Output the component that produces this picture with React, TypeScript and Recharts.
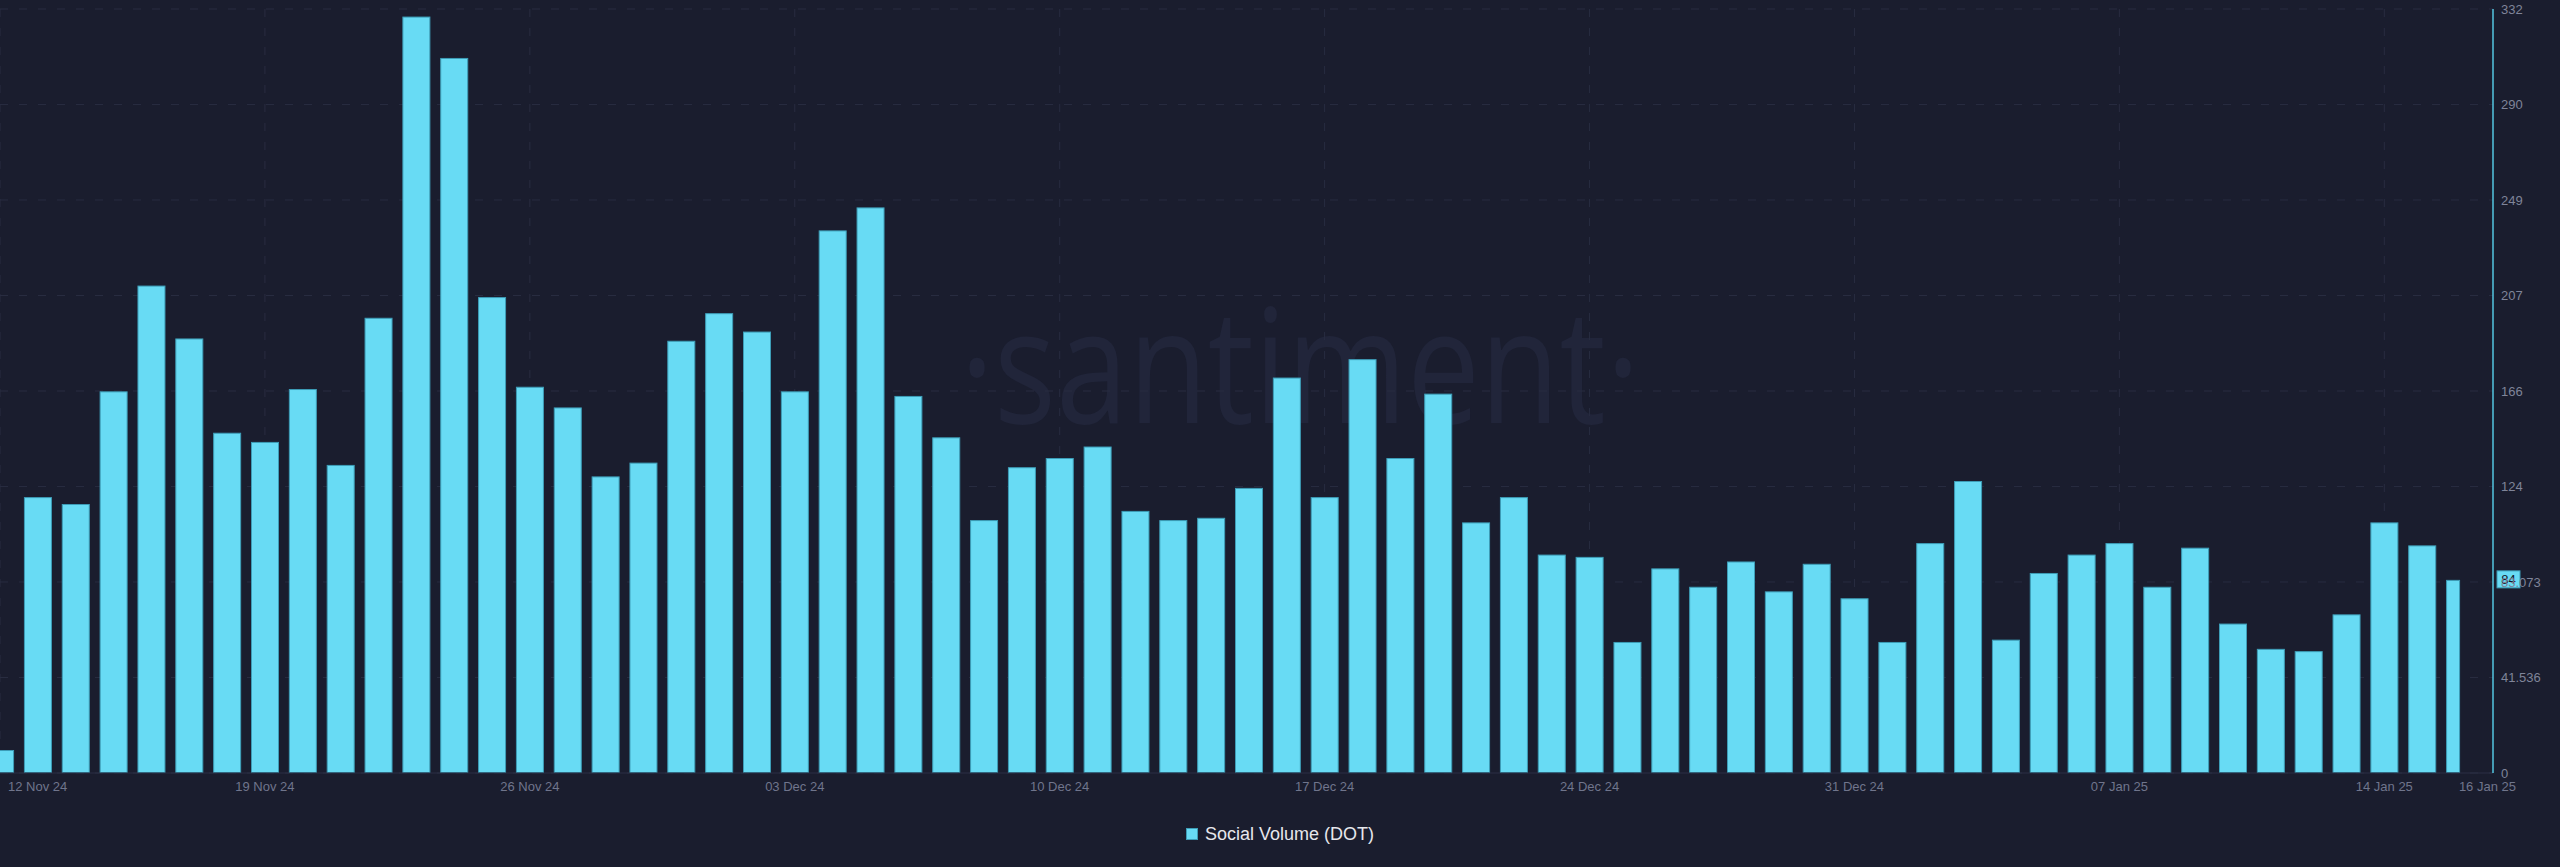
import {
  BarChart,
  Bar,
  XAxis,
  YAxis,
  CartesianGrid,
  Legend,
  ReferenceLine,
} from 'recharts';

// daily social volume, 12 Nov 24 .. 16 Jan 25
const socialVolume = [
  10, 120, 117, 166, 212, 189, 148, 144, 167, 134, 198, 329, 311, 207,
  168, 159, 129, 135, 188, 200, 192, 166, 236, 246, 164, 146, 110,
  133, 137, 142, 114, 110, 111, 124, 172, 120, 180, 137, 165, 109,
  120, 95, 94, 57, 89, 81, 92, 79, 91, 76, 57, 100, 127,
  58, 87, 95, 100, 81, 98, 65, 54, 53, 69, 109, 99, 84,
];

const xTicks = [0, 7, 14, 21, 28, 35, 42, 49, 56, 63, 65];
const xTickLabels = [
  '12 Nov 24', '19 Nov 24', '26 Nov 24', '03 Dec 24', '10 Dec 24', '17 Dec 24',
  '24 Dec 24', '31 Dec 24', '07 Jan 25', '14 Jan 25', '16 Jan 25',
];

const yTicks = [0, 41.536, 83.073, 124.609, 166.145, 207.681, 249.218, 290.754, 332.29];
const yTickLabels = ['0', '41.536', '83.073', '124', '166', '207', '249', '290', '332'];

const data = socialVolume.map((value, day) => ({ day, value }));
const lastValue = socialVolume[socialVolume.length - 1];

const WIDTH = 2560;
const HEIGHT = 867;
const X_MAX = 65.872;

const BG = '#1a1d2e';
const BAR_FILL = '#68dbf4';
const BAR_STROKE = '#3d9db7';
const GRID = '#282c40';
const AXIS_CYAN = '#55c6e0';

function XTick({ x, y, payload }: any) {
  const i = xTicks.indexOf(payload.value);
  const first = i === 0;
  const last = i === xTicks.length - 1;
  return (
    <text
      x={first ? x + 8 : last ? x + 56 : x}
      y={y}
      dy={18}
      textAnchor={first ? 'start' : last ? 'end' : 'middle'}
      fill="#70758c"
      fontSize={13}
    >
      {xTickLabels[i]}
    </text>
  );
}

function BarShape(props: any) {
  const { x, y, width, height, index } = props;
  if (!height || height <= 0) return null;
  // the newest bar is cut at its own date, like the left one
  const w = index === socialVolume.length - 1 ? width / 2 : width;
  return (
    <rect
      x={x + 0.5}
      y={y + 0.5}
      width={w - 1}
      height={height - 1}
      fill={BAR_FILL}
      stroke={BAR_STROKE}
      strokeWidth={1}
    />
  );
}

function ValueBadge({ viewBox }: any) {
  if (!viewBox) return null;
  const bx = viewBox.x + viewBox.width + 4;
  return (
    <g>
      <rect x={bx} y={viewBox.y - 9} width={23} height={17} fill={BAR_FILL} stroke={BAR_STROKE} />
      <text x={bx + 11.5} y={viewBox.y + 4.5} textAnchor="middle" fontSize={13} fill="#15182a">
        {lastValue}
      </text>
    </g>
  );
}

function LegendBox() {
  return (
    <div
      style={{
        height: 40,
        display: 'flex',
        justifyContent: 'center',
        alignItems: 'center',
        gap: 7,
      }}
    >
      <span
        style={{
          width: 12,
          height: 12,
          background: BAR_FILL,
          border: `1px solid ${BAR_STROKE}`,
          boxSizing: 'border-box',
          display: 'inline-block',
        }}
      />
      <span style={{ color: '#e6e7ec', fontSize: 18 }}>Social Volume (DOT)</span>
    </div>
  );
}

const gridX = ({ offset }: any) =>
  xTicks.slice(0, -1).map((t) => offset.left + (t / X_MAX) * offset.width);

export default function App() {
  return (
    <div
      style={{
        position: 'absolute',
        left: 0,
        top: 0,
        width: WIDTH,
        height: HEIGHT,
        background: BG,
        fontFamily: '"Liberation Sans", Arial, sans-serif',
        overflow: 'hidden',
      }}
    >
      <svg width={WIDTH} height={HEIGHT} style={{ position: 'absolute', left: 0, top: 0 }}>
        <text
          x={1300}
          y={423}
          textAnchor="middle"
          fontSize={160}
          fontFamily='"Open Sans", sans-serif'
          fill="#21253a"
          textLength={680}
          lengthAdjust="spacingAndGlyphs"
        >
          ·santiment·
        </text>
      </svg>
      <div style={{ position: 'absolute', left: 0, top: 0 }}>
        <BarChart
          width={WIDTH}
          height={HEIGHT}
          data={data}
          margin={{ top: 9, right: 0, bottom: 13, left: 0 }}
          barSize={28}
        >
          <CartesianGrid
            stroke={GRID}
            strokeDasharray="8 11"
            verticalCoordinatesGenerator={gridX}
          />
          <XAxis
            dataKey="day"
            type="number"
            domain={[0, X_MAX]}
            ticks={xTicks}
            interval={0}
            height={41}
            tick={<XTick />}
            tickLine={false}
            tickSize={0}
            tickMargin={0}
            axisLine={{ stroke: '#2b2f44' }}
          />
          <YAxis
            orientation="right"
            width={67}
            domain={[0, 332.29]}
            ticks={yTicks}
            interval={0}
            tickFormatter={(v: number, i: number) => yTickLabels[i] ?? String(v)}
            tick={{ fill: '#7f8499', fontSize: 13 }}
            tickLine={false}
            tickSize={0}
            tickMargin={8}
            axisLine={{ stroke: AXIS_CYAN, strokeWidth: 1.5 }}
          />
          <Legend verticalAlign="bottom" height={40} content={<LegendBox />} />
          <Bar dataKey="value" name="Social Volume (DOT)" shape={<BarShape />} isAnimationActive={false} />
          <ReferenceLine y={lastValue} stroke="none" ifOverflow="visible" label={<ValueBadge />} />
        </BarChart>
      </div>
    </div>
  );
}
